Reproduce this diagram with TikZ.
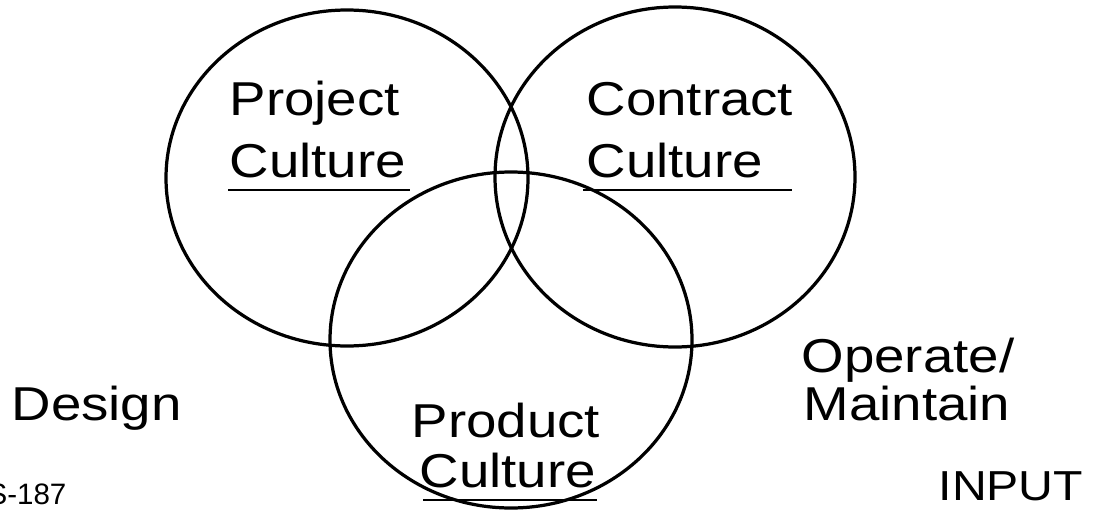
\documentclass[tikz,border=0pt]{standalone}
\usepackage{fontspec}
\setmainfont{Liberation Sans}
\newfontfamily\vennfont[FakeStretch=1.15]{Liberation Sans}
\tikzset{
  lbl/.style={inner sep=0pt, anchor=base west, font=\vennfont\fontsize{33.8}{40}\selectfont},
  small/.style={inner sep=0pt, anchor=base west, font=\fontsize{21}{25}\selectfont},
  uline/.style={line width=2.1pt}
}
\begin{document}
\begin{tikzpicture}[x=0.025cm, y=-0.025cm, line width=2.3pt]
\useasboundingbox (0,0) rectangle (1098,513);
% the three cultures
\draw (347,178) ellipse [x radius=181, y radius=168];
\draw (675,177) ellipse [x radius=180, y radius=170];
\draw (511,340) ellipse [x radius=181, y radius=168];
% circle labels
\node[lbl] (projA) at (228,115) {Project};
\node[lbl] (projB) at (228,177) {Culture};
\draw[uline] (228,190) -- (410,190);
\node[lbl] (contA) at (585,115) {Contract};
\node[lbl] (contB) at (585,177) {Culture};
\draw[uline] (583,190) -- (792,190);
\node[lbl] (prodA) at (410,437) {Product};
\node[lbl] (prodB) at (418,487) {Culture};
\draw[uline] (423,500) -- (597,500);
% outside labels
\node[lbl] (design) at (10,420) {Design};
\node[lbl] (operA) at (800,372) {Operate/};
\node[lbl] (operB) at (802,420) {Maintain};
\node[lbl, font=\vennfont\fontsize{29.8}{34}\selectfont] (input) at (937,500) {INPUT};
\node[small] (fig) at (-14,504) {S-187};
\end{tikzpicture}
\end{document}
